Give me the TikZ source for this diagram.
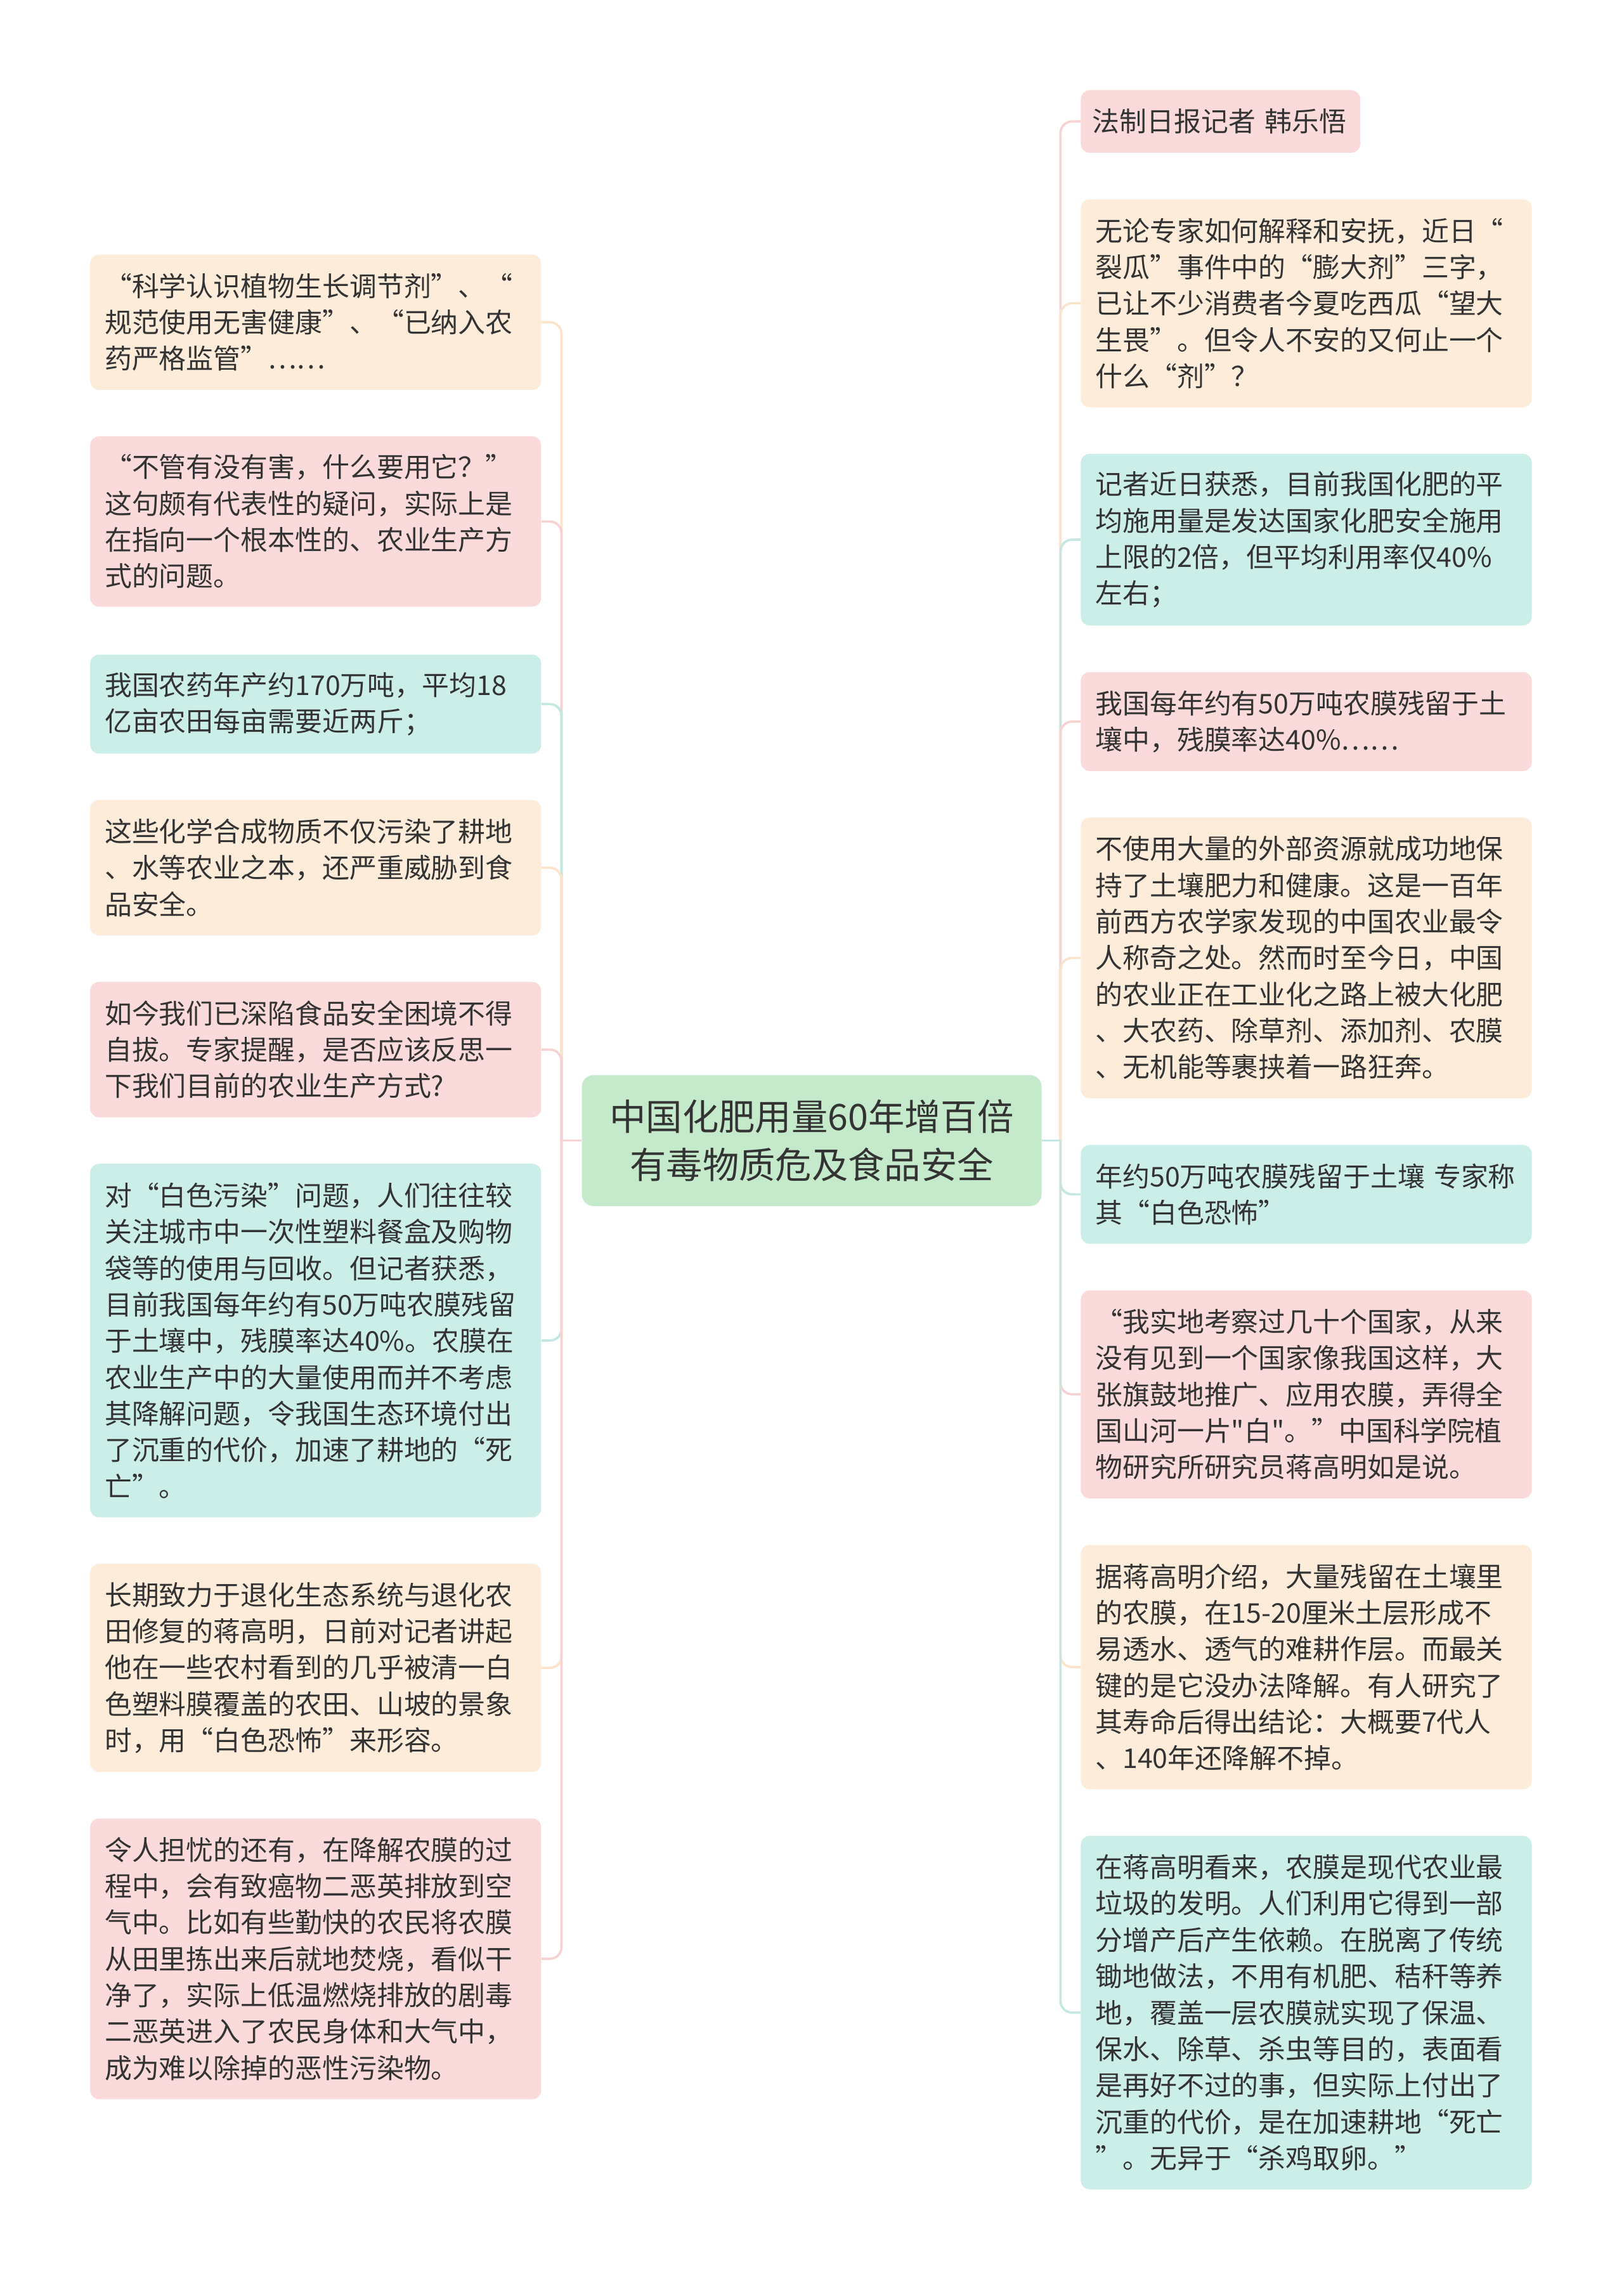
\documentclass[tikz,border=0pt]{standalone}
\usepackage{fontspec}
\setmainfont{Noto Sans CJK SC}[Ligatures=TeXOff]
\definecolor{txt}{HTML}{333333}
\definecolor{peachF}{HTML}{FDECDA}
\definecolor{pinkF}{HTML}{FADADA}
\definecolor{tealF}{HTML}{CCEEE8}
\definecolor{rootF}{HTML}{C5EACB}
\definecolor{peachL}{HTML}{FCE3CC}
\definecolor{pinkL}{HTML}{F7D2D2}
\definecolor{tealL}{HTML}{C2E8E1}
\newcommand{\boxfont}{\fontsize{18.7pt}{25pt}\selectfont}
\newcommand{\rootfont}{\fontsize{25pt}{33pt}\selectfont}
\pgfdeclarelayer{paper}
\pgfdeclarelayer{wires}
\pgfsetlayers{paper,wires,main}
\tikzset{
  box/.style={rounded corners=6pt, inner xsep=10pt, inner ysep=0pt, text width=290pt,
    align=left, font=\boxfont, text=txt, anchor=center},
  peachbox/.style={box, fill=peachF},
  pinkbox/.style={box, fill=pinkF},
  tealbox/.style={box, fill=tealF},
  rootbox/.style={rounded corners=8pt, fill=rootF, minimum width=316pt, minimum height=90pt,
    inner sep=0pt, align=center, font=\rootfont, text=txt},
  ln/.style={line width=1.6pt, rounded corners=8pt},
}
\begin{document}
\begin{tikzpicture}[x=1pt,y=-1pt]
\useasboundingbox (0,0) rectangle (1116,1568);
\begin{pgfonlayer}{paper}
\fill[white] (0,0) rectangle (1116,1568);
\end{pgfonlayer}

% root
\node[rootbox] (root) at (558,784) {中国化肥用量60年增百倍\\有毒物质危及食品安全};

% left children
\node[peachbox, minimum height=93pt] (L1) at (217,221.5) {“科学认识植物生长调节剂”、“\\规范使用无害健康”、“已纳入农\\药严格监管”……};
\node[pinkbox, minimum height=117pt] (L2) at (217,358.5) {“不管有没有害，什么要用它？”\\这句颇有代表性的疑问，实际上是\\在指向一个根本性的、农业生产方\\式的问题。};
\node[tealbox, minimum height=68pt] (L3) at (217,484) {我国农药年产约170万吨，平均18\\亿亩农田每亩需要近两斤；};
\node[peachbox, minimum height=93pt] (L4) at (217,596.5) {这些化学合成物质不仅污染了耕地\\、水等农业之本，还严重威胁到食\\品安全。};
\node[pinkbox, minimum height=93pt] (L5) at (217,721.5) {如今我们已深陷食品安全困境不得\\自拔。专家提醒，是否应该反思一\\下我们目前的农业生产方式?};
\node[tealbox, minimum height=243pt] (L6) at (217,921.5) {对“白色污染”问题，人们往往较\\关注城市中一次性塑料餐盒及购物\\袋等的使用与回收。但记者获悉，\\目前我国每年约有50万吨农膜残留\\于土壤中，残膜率达40\%。农膜在\\农业生产中的大量使用而并不考虑\\其降解问题，令我国生态环境付出\\了沉重的代价，加速了耕地的“死\\亡”。};
\node[peachbox, minimum height=143pt] (L7) at (217,1146.5) {长期致力于退化生态系统与退化农\\田修复的蒋高明，日前对记者讲起\\他在一些农村看到的几乎被清一白\\色塑料膜覆盖的农田、山坡的景象\\时，用“白色恐怖”来形容。};
\node[pinkbox, minimum height=193pt] (L8) at (217,1346.5) {令人担忧的还有，在降解农膜的过\\程中，会有致癌物二恶英排放到空\\气中。比如有些勤快的农民将农膜\\从田里拣出来后就地焚烧，看似干\\净了，实际上低温燃烧排放的剧毒\\二恶英进入了农民身体和大气中，\\成为难以除掉的恶性污染物。};

% right children
\node[pinkbox, text width=176pt, inner xsep=8pt, minimum height=43pt] (R1) at (839,83.5) {法制日报记者~韩乐悟};
\node[peachbox, minimum height=143pt] (R2) at (898,208.5) {无论专家如何解释和安抚，近日“\\裂瓜”事件中的“膨大剂”三字，\\已让不少消费者今夏吃西瓜“望大\\生畏”。但令人不安的又何止一个\\什么“剂”？};
\node[tealbox, minimum height=118pt] (R3) at (898,371) {记者近日获悉，目前我国化肥的平\\均施用量是发达国家化肥安全施用\\上限的2倍，但平均利用率仅40\%\\左右；};
\node[pinkbox, minimum height=68pt] (R4) at (898,496) {我国每年约有50万吨农膜残留于土\\壤中，残膜率达40\%……};
\node[peachbox, minimum height=193pt] (R5) at (898,658.5) {不使用大量的外部资源就成功地保\\持了土壤肥力和健康。这是一百年\\前西方农学家发现的中国农业最令\\人称奇之处。然而时至今日，中国\\的农业正在工业化之路上被大化肥\\、大农药、除草剂、添加剂、农膜\\、无机能等裹挟着一路狂奔。};
\node[tealbox, minimum height=68pt] (R6) at (898,821) {年约50万吨农膜残留于土壤 专家称\\其“白色恐怖”};
\node[pinkbox, minimum height=143pt] (R7) at (898,958.5) {“我实地考察过几十个国家，从来\\没有见到一个国家像我国这样，大\\张旗鼓地推广、应用农膜，弄得全\\国山河一片"白"。”中国科学院植\\物研究所研究员蒋高明如是说。};
\node[peachbox, minimum height=168pt] (R8) at (898,1146) {据蒋高明介绍，大量残留在土壤里\\的农膜，在15-20厘米土层形成不\\易透水、透气的难耕作层。而最关\\键的是它没办法降解。有人研究了\\其寿命后得出结论：大概要7代人\\、140年还降解不掉。};
\node[tealbox, minimum height=243pt] (R9) at (898,1383.5) {在蒋高明看来，农膜是现代农业最\\垃圾的发明。人们利用它得到一部\\分增产后产生依赖。在脱离了传统\\锄地做法，不用有机肥、秸秆等养\\地，覆盖一层农膜就实现了保温、\\保水、除草、杀虫等目的，表面看\\是再好不过的事，但实际上付出了\\沉重的代价，是在加速耕地“死亡\\”。无异于“杀鸡取卵。”};

% connectors
\coordinate (LJ) at (386,784);
\coordinate (RJ) at (729,784);
\begin{pgfonlayer}{wires}
\draw[ln, peachL] (LJ) |- (L1.east);
\draw[ln, pinkL] (LJ) |- (L2.east);
\draw[ln, tealL] (LJ) |- (L3.east);
\draw[ln, peachL] (LJ) |- (L4.east);
\draw[ln, pinkL] (LJ) |- (L5.east);
\draw[ln, tealL] (LJ) |- (L6.east);
\draw[ln, peachL] (LJ) |- (L7.east);
\draw[ln, pinkL] (LJ) |- (L8.east);
\draw[ln, pinkL] (root.west) -- (LJ);
\draw[ln, pinkL] (RJ) |- (R1.west);
\draw[ln, peachL] (RJ) |- (R2.west);
\draw[ln, tealL] (RJ) |- (R3.west);
\draw[ln, pinkL] (RJ) |- (R4.west);
\draw[ln, peachL] (RJ) |- (R5.west);
\draw[ln, tealL] (RJ) |- (R6.west);
\draw[ln, pinkL] (RJ) |- (R7.west);
\draw[ln, peachL] (RJ) |- (R8.west);
\draw[ln, tealL] (RJ) |- (R9.west);
\draw[ln, tealL] (root.east) -- (RJ);
\end{pgfonlayer}
\end{tikzpicture}
\end{document}
